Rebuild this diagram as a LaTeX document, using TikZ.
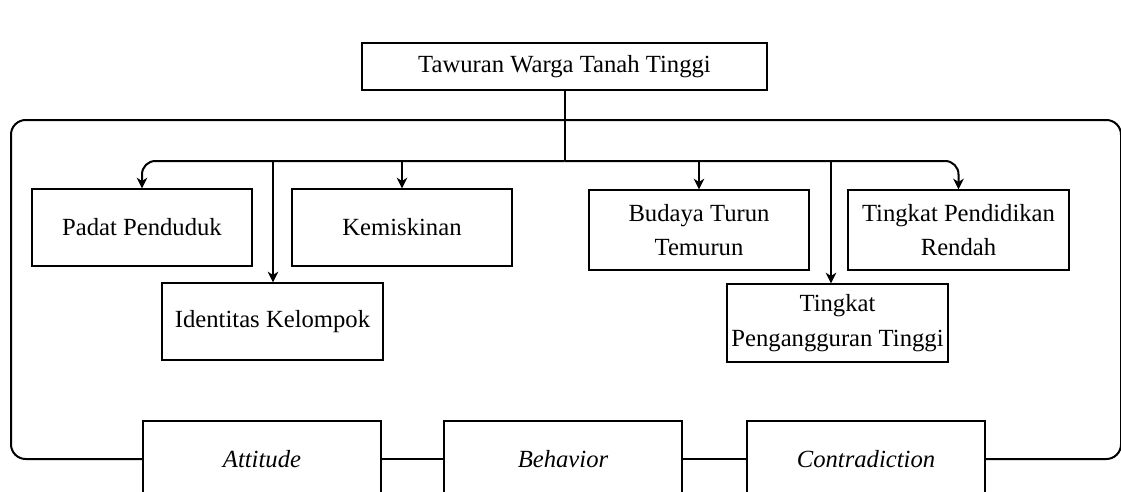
\documentclass[tikz,border=0pt]{standalone}
\usepackage{fontspec}
\setmainfont{Liberation Serif}
\usepackage{tikz}
\usetikzlibrary{arrows.meta}

\tikzset{
  kotak/.style={draw,line width=1pt,fill=white,align=center,inner sep=2pt,
    font=\fontsize{18.5}{26}\selectfont},
  garis/.style={line width=1.5pt},
  panah/.style={line width=1.5pt,-{Stealth[length=8pt,width=8pt,inset=2.5pt]}}
}

\begin{document}
\begin{tikzpicture}[x=0.75pt,y=-0.75pt]
\useasboundingbox (0,0) rectangle (1121,492);
\coordinate (kiri) at (11,120);
\coordinate (kanan) at (1121,120);
\coordinate (cabang) at (564.5,161);
\coordinate (b2) at (273,161);
\coordinate (b5) at (831,161);
\node (top) at (564.5,66.5) [kotak,minimum width=303.75pt,minimum height=35.25pt] {Tawuran Warga Tanah Tinggi};
\node (padat) at (142,227.5) [kotak,minimum width=165pt,minimum height=57.75pt] {Padat Penduduk};
\node (miskin) at (402,227.5) [kotak,minimum width=165pt,minimum height=57.75pt] {Kemiskinan};
\node (identitas) at (272.5,321.5) [kotak,minimum width=165.75pt,minimum height=57.75pt] {Identitas Kelompok};
\node (budaya) at (699,230) [kotak,minimum width=165pt,minimum height=60pt] {Budaya Turun\\Temurun};
\node (didik) at (958.5,230) [kotak,minimum width=165.75pt,minimum height=60pt] {Tingkat Pendidikan\\Rendah};
\node (nganggur) at (837.5,323) [kotak,minimum width=165.75pt,minimum height=58.5pt] {Tingkat\\Pengangguran Tinggi};
\draw [garis,rounded corners=11pt] (200,459) -| (kiri) -- (kanan) |- (900,459);
\draw [garis] (top.south) -- (cabang);
\draw [panah,rounded corners=10pt] (cabang) -| (padat.north);
\draw [panah,rounded corners=10pt] (cabang) -| (didik.north);
\draw [panah] (b2) -- (b2 |- identitas.north);
\draw [panah] (miskin.north |- cabang) -- (miskin.north);
\draw [panah] (budaya.north |- cabang) -- (budaya.north);
\draw [panah] (b5) -- (b5 |- nganggur.north);
\node (attitude) at (262,459) [kotak,minimum width=178.5pt,minimum height=57pt] {\itshape Attitude};
\node (behavior) at (563,459) [kotak,minimum width=178.5pt,minimum height=57pt] {\itshape Behavior};
\node (contra) at (866,459) [kotak,minimum width=178.5pt,minimum height=57pt] {\itshape Contradiction};
\draw [line width=1.9pt] (attitude) -- (behavior);
\draw [line width=1.9pt] (behavior) -- (contra);
\end{tikzpicture}
\end{document}
